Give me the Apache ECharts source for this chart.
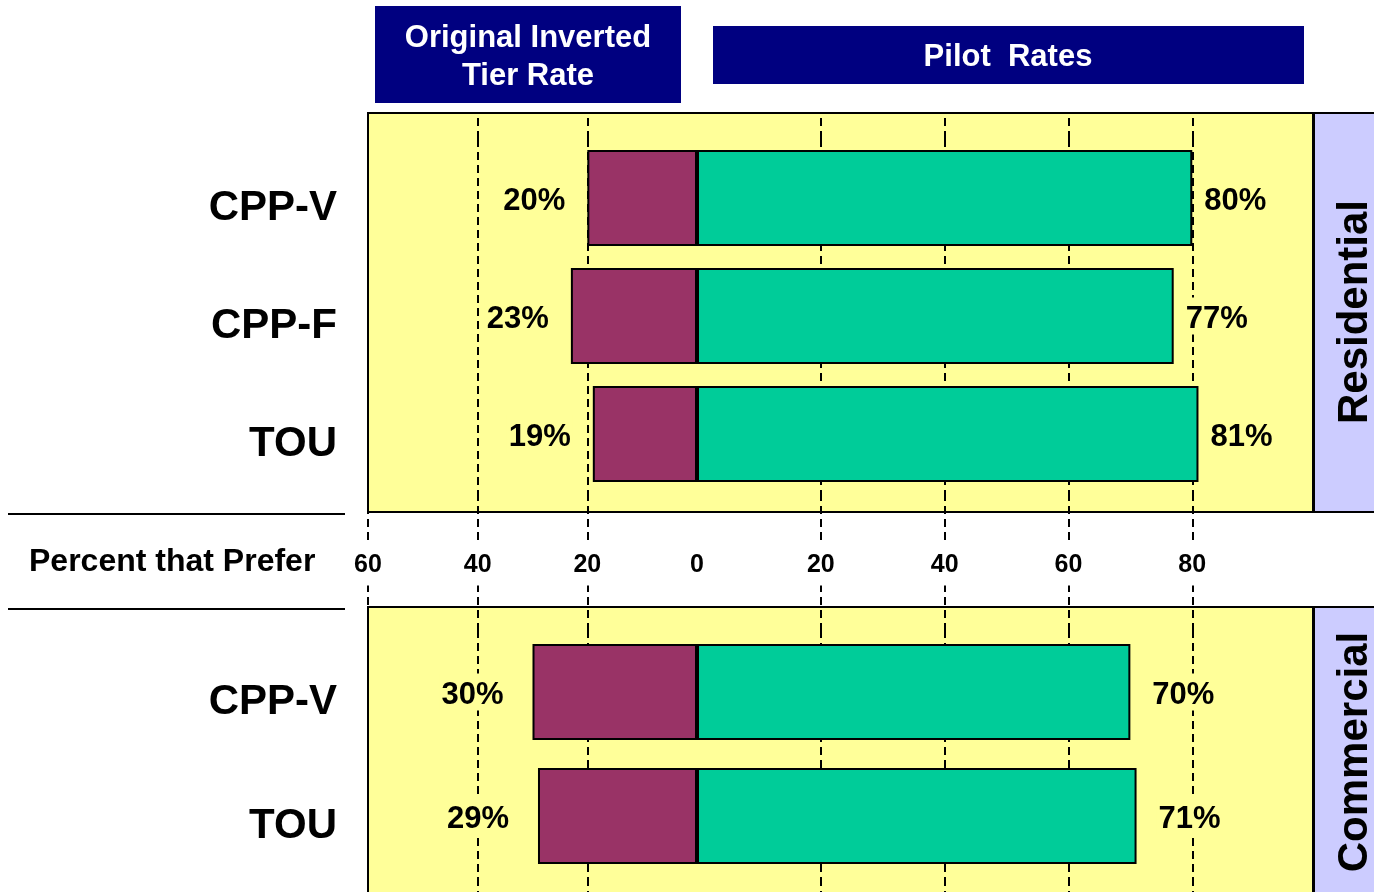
<!DOCTYPE html>
<html>
<head>
<meta charset="utf-8">
<title>Percent that Prefer</title>
<script src="https://cdn.jsdelivr.net/npm/echarts@6/dist/echarts.min.js"></script>
<style>
  html, body { margin: 0; padding: 0; background: #fff; }
  #chart { width: 1374px; height: 892px; }
</style>
</head>
<body>
<div id="chart"></div>
<script>
// data
const resCategories = ['CPP-V', 'CPP-F', 'TOU'];
const resOriginal = [20, 23, 19];
const resPilot = [80, 77, 81];

const comCategories = ['CPP-V', 'TOU'];
const comOriginal = [30, 29];
const comPilot = [70, 71];

const leftTicks = [20, 40, 60];
const rightTicks = [20, 40, 60, 80];
const rightLabels = [0, 20, 40, 60, 80];

const FONT = '"Liberation Sans", Arial, sans-serif';
const YELLOW = '#FFFF99';
const MAROON = '#993366';
const GREEN = '#00CC99';
const NAVY = '#000080';
const LAVENDER = '#CCCCFF';

const chart = echarts.init(document.getElementById('chart'));

const dashed = { color: '#000', width: 2, type: [8, 5] };

// value axis helper, left half is inverted so bars grow leftwards
function valueAxis(gridIndex, side, opts) {
  const left = side === 'left';
  return {
    type: 'value',
    gridIndex: gridIndex,
    position: opts.position || 'bottom',
    inverse: left,
    min: 0,
    max: left ? 60 : 99.5,
    axisLine: { show: false },
    axisTick: {
      show: true,
      inside: false,
      length: opts.tickLength,
      customValues: left ? leftTicks : rightTicks,
      lineStyle: dashed
    },
    splitLine: { show: !!opts.split, lineStyle: dashed },
    axisLabel: opts.labels ? {
      show: true,
      customValues: left ? leftTicks : rightLabels,
      margin: 72,
      verticalAlign: 'middle',
      fontFamily: FONT,
      fontSize: 25,
      fontWeight: 'bold',
      color: '#000',
      backgroundColor: '#fff',
      padding: [8, 3]
    } : { show: false }
  };
}

function catAxis(gridIndex, data, showLabels) {
  return {
    type: 'category',
    gridIndex: gridIndex,
    data: data,
    inverse: true,
    axisLine: { show: false },
    axisTick: { show: false },
    splitLine: { show: false },
    axisLabel: {
      show: showLabels,
      margin: 31,
      // rich token so the padding pushes the name a bit below the bar centre
      formatter: '{c|{value}}',
      rich: {
        c: {
          fontFamily: FONT,
          fontSize: 42,
          fontWeight: 'bold',
          color: '#000',
          padding: [20, 0, 0, 0]
        }
      }
    }
  };
}

function barSeries(name, xi, data, color, side, distance) {
  return {
    name: name,
    type: 'bar',
    xAxisIndex: xi,
    yAxisIndex: xi,
    data: data,
    barWidth: 96,
    itemStyle: { color: color, borderColor: '#000', borderWidth: 2 },
    label: {
      show: true,
      position: side,
      distance: distance,
      formatter: '{p|{c}%}',
      backgroundColor: YELLOW,
      rich: {
        p: {
          fontFamily: FONT,
          fontSize: 31,
          fontWeight: 'bold',
          color: '#000',
          padding: [6, 2, 0, 2]
        }
      }
    }
  };
}

function boxText(x, y, text, size, color, extra) {
  return Object.assign({
    type: 'text',
    x: x,
    y: y,
    style: {
      text: text,
      fontFamily: FONT,
      fontSize: size,
      fontWeight: 'bold',
      fill: color,
      align: 'center',
      verticalAlign: 'middle',
      lineHeight: 38
    }
  }, extra || {});
}

const option = {
  backgroundColor: '#fff',
  animation: false,
  grid: [
    { left: 368, top: 139, width: 329, height: 354, outerBoundsMode: 'none' },
    { left: 697, top: 139, width: 616, height: 354, outerBoundsMode: 'none' },
    { left: 368, top: 630, width: 329, height: 248, outerBoundsMode: 'none' },
    { left: 697, top: 630, width: 616, height: 248, outerBoundsMode: 'none' }
  ],
  xAxis: [
    valueAxis(0, 'left', { tickLength: 137, split: true, labels: true }),
    valueAxis(1, 'right', { tickLength: 137, split: true, labels: true }),
    valueAxis(2, 'left', { tickLength: 20, split: true }),
    valueAxis(3, 'right', { tickLength: 20, split: true }),
    // top axes only carry the dashes up to the panel border
    valueAxis(0, 'left', { tickLength: 26, position: 'top' }),
    valueAxis(1, 'right', { tickLength: 26, position: 'top' })
  ],
  yAxis: [
    catAxis(0, resCategories, true),
    catAxis(1, resCategories, false),
    catAxis(2, comCategories, true),
    catAxis(3, comCategories, false)
  ],
  series: [
    barSeries('Original Inverted Tier Rate', 0, resOriginal, MAROON, 'left', 20),
    barSeries('Pilot Rates', 1, resPilot, GREEN, 'right', 10),
    barSeries('Original Inverted Tier Rate', 2, comOriginal, MAROON, 'left', 27),
    barSeries('Pilot Rates', 3, comPilot, GREEN, 'right', 20)
  ],
  graphic: [
    // yellow panels
    { type: 'rect', z: -1, shape: { x: 368, y: 113, width: 945, height: 399 },
      style: { fill: YELLOW, stroke: '#000', lineWidth: 2 } },
    { type: 'rect', z: -1, shape: { x: 368, y: 607, width: 945, height: 300 },
      style: { fill: YELLOW, stroke: '#000', lineWidth: 2 } },
    // side tabs
    { type: 'rect', shape: { x: 1314, y: 113, width: 64, height: 399 },
      style: { fill: LAVENDER, stroke: '#000', lineWidth: 2 } },
    { type: 'rect', shape: { x: 1314, y: 607, width: 64, height: 300 },
      style: { fill: LAVENDER, stroke: '#000', lineWidth: 2 } },
    boxText(1355, 312, 'Residential', 42, '#000', { rotation: Math.PI / 2 }),
    boxText(1355, 752, 'Commercial', 42, '#000', { rotation: Math.PI / 2 }),
    // header boxes
    { type: 'rect', shape: { x: 375, y: 6, width: 306, height: 97 }, style: { fill: NAVY } },
    boxText(528, 57, 'Original Inverted\nTier Rate', 31, '#fff'),
    { type: 'rect', shape: { x: 713, y: 26, width: 591, height: 58 }, style: { fill: NAVY } },
    boxText(1008, 57, 'Pilot  Rates', 31, '#fff'),
    // axis caption between panels
    { type: 'line', shape: { x1: 8, y1: 514, x2: 345, y2: 514 }, style: { stroke: '#000', lineWidth: 2 } },
    { type: 'line', shape: { x1: 8, y1: 609, x2: 345, y2: 609 }, style: { stroke: '#000', lineWidth: 2 } },
    {
      type: 'text', x: 29, y: 562,
      style: {
        text: 'Percent that Prefer', fontFamily: FONT, fontSize: 32, fontWeight: 'bold',
        fill: '#000', align: 'left', verticalAlign: 'middle'
      }
    }
  ]
};

chart.setOption(option);
</script>
</body>
</html>
